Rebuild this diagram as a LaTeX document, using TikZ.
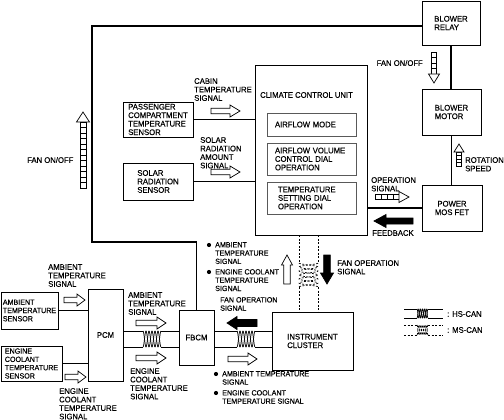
\documentclass[tikz,border=0pt]{standalone}
\usepackage{fontspec}
\setmainfont[FakeStretch=0.95,FakeBold=0.35]{Liberation Sans}
\usetikzlibrary{calc}
\newcommand\mainf{\fontsize{8.1}{8.5}\selectfont}
\newcommand\smallf{\fontsize{7.5}{8.3}\selectfont}
% horizontal twisted pair
\newcommand\twistH[5]{%
  \draw[#5] plot[domain=0:1,samples=80,smooth] ({#1+(#2-#1)*\x},{(#3+#4)/2+(#4-#3)/2*cos(\x*1080)});
  \draw[#5] plot[domain=0:1,samples=80,smooth] ({#1+(#2-#1)*\x},{(#3+#4)/2-(#4-#3)/2*cos(\x*1080)});}
% vertical twisted pair
\newcommand\twistV[5]{%
  \draw[#5] plot[domain=0:1,samples=80,smooth] ({(#3+#4)/2+(#4-#3)/2*cos(\x*1080)},{#1+(#2-#1)*\x});
  \draw[#5] plot[domain=0:1,samples=80,smooth] ({(#3+#4)/2-(#4-#3)/2*cos(\x*1080)},{#1+(#2-#1)*\x});}
% block arrow: x,y(tail),rot,len,shafthalf,headhalf,headlen,fill
\newcommand\blockarrow[8]{%
  \begin{scope}[shift={(#1,#2)},rotate=#3]
    \draw[line width=0.7pt,fill=#8] (0,-#5) -- ({#4-#7},-#5) -- ({#4-#7},-#6) -- (#4,0) -- ({#4-#7},#6) -- ({#4-#7},#5) -- (0,#5) -- cycle;
  \end{scope}}
% segmented arrow: x,y(tail),rot,n,seglen,halfw,headhalf,headlen
\newcommand\segarrow[8]{%
  \begin{scope}[shift={(#1,#2)},rotate=#3]
    \foreach \i in {1,...,#4} \draw[line width=0.6pt,fill=white] ({(\i-1)*#5},-#6) rectangle ({\i*#5},#6);
    \draw[line width=0.7pt,fill=white] ({#4*#5},-#7) -- ({#4*#5+#8},0) -- ({#4*#5},#7) -- cycle;
  \end{scope}}
\tikzset{
  box/.style={draw,line width=0.8pt,inner sep=0pt,align=left},
  ibox/.style={draw=black!65,line width=0.7pt,inner sep=0pt,align=left},
  lbl/.style={inner sep=0pt,align=left,anchor=north west},
  slbl/.style={inner sep=0pt,anchor=west},
  wire/.style={line width=1.3pt},
  heavy/.style={line width=1.9pt},
  can/.style={line width=0.7pt},
  mscan/.style={line width=0.7pt,dash pattern=on 2pt off 1.5pt},
}
\begin{document}
\begin{tikzpicture}[x=1pt,y=-1pt,font=\mainf]
\useasboundingbox (0,0) rectangle (504,420);
% boxes
\node[box,minimum width=58,minimum height=44] (relay) at (451,23) {BLOWER\\RELAY};
\node[box,minimum width=59,minimum height=46] (motor) at (451.5,112) {BLOWER\\MOTOR};
\node[box,minimum width=60,minimum height=46,align=center] (pmf) at (452,208) {POWER\\MOS FET};
\node[box,minimum width=112,minimum height=170] (ccu) at (311,150) {};
\node[slbl] (ccut) at (260,95) {CLIMATE CONTROL UNIT};
\node[ibox,text width=73pt,inner xsep=8pt,minimum height=23] (am) at (311.5,124.5) {AIRFLOW MODE};
\node[ibox,text width=73pt,inner xsep=8pt,minimum height=32] (av) at (311.5,159) {AIRFLOW VOLUME\\CONTROL DIAL\\OPERATION};
\node[ibox,text width=67pt,inner xsep=11pt,minimum height=32] (ts) at (311.5,198) {TEMPERATURE\\SETTING DIAL\\OPERATION};
\node[box,minimum width=70,minimum height=35] (pcts) at (158,119.5) {PASSENGER\\COMPARTMENT\\TEMPERATURE\\SENSOR};
\node[box,minimum width=70,minimum height=37] (srs) at (158,181.5) {SOLAR\\RADIATION\\SENSOR};
\node[box,minimum width=57,minimum height=37,font=\smallf] (amb) at (29.5,310.5) {AMBIENT\\TEMPERATURE\\SENSOR};
\node[box,minimum width=61,minimum height=35,font=\smallf] (ect) at (31.5,363.5) {ENGINE\\COOLANT\\TEMPERATURE\\SENSOR};
\node[box,minimum width=35,minimum height=92] (pcm) at (105.5,335) {PCM};
\node[box,minimum width=35,minimum height=55] (fbcm) at (196.5,337.5) {FBCM};
\node[box,minimum width=81,minimum height=58] (ic) at (312.5,341) {INSTRUMENT\\CLUSTER};
% wires
\coordinate (k1) at (92,26);
\coordinate (k2) at (92,242);
\draw[wire] ($(relay.west)+(0,3)$) -- (k1) -- (k2) -| (fbcm.north);
\draw[wire] (relay.south) -- (relay.south |- motor.north);
\draw[wire] (motor.south) -- (motor.south |- pmf.north);
\draw[wire] (pmf.west) -- (pmf.west -| ccu.east);
\draw[heavy] (pcts.east) -- (pcts.east -| ccu.west);
\draw[heavy] (srs.east) -- (srs.east -| ccu.west);
\draw[heavy] (amb.east) -- (amb.east -| pcm.west);
\draw[heavy] (ect.east) -- (ect.east -| pcm.west);
% HS-CAN PCM-FBCM
\coordinate (p1) at (143,331); \coordinate (p2) at (161,331);
\coordinate (p3) at (143,347); \coordinate (p4) at (161,347);
\draw[can] (pcm.east |- p1) -- (p1); \draw[can] (p2) -- (fbcm.west |- p2);
\draw[can] (pcm.east |- p3) -- (p3); \draw[can] (p4) -- (fbcm.west |- p4);
\twistH{143}{161}{331}{347}{can}
% HS-CAN FBCM-IC
\coordinate (q1) at (237,331); \coordinate (q2) at (255,331);
\coordinate (q3) at (237,347); \coordinate (q4) at (255,347);
\draw[can] (fbcm.east |- q1) -- (q1); \draw[can] (q2) -- (ic.west |- q2);
\draw[can] (fbcm.east |- q3) -- (q3); \draw[can] (q4) -- (ic.west |- q4);
\twistH{237}{255}{331}{347}{can}
% MS-CAN CCU-IC
\coordinate (r1) at (299,263); \coordinate (r2) at (299,287);
\coordinate (r3) at (318,263); \coordinate (r4) at (318,287);
\draw[mscan] (ccu.south -| r1) -- (r1); \draw[mscan] (r2) -- (ic.north -| r2);
\draw[mscan] (ccu.south -| r3) -- (r3); \draw[mscan] (r4) -- (ic.north -| r4);
\twistV{263}{287}{299}{318}{mscan}
% arrows
\blockarrow{211}{111}{0}{29}{2.8}{6}{10}{white}
\blockarrow{211}{172}{0}{29}{2.8}{6}{10}{white}
\blockarrow{64}{300}{0}{21}{2.8}{6}{8}{white}
\blockarrow{65}{377}{0}{21}{2.8}{6}{8}{white}
\blockarrow{136}{323}{0}{30}{2.8}{6}{9}{white}
\blockarrow{136}{358}{0}{30}{2.8}{6}{9}{white}
\blockarrow{257}{323}{180}{30}{3.5}{6.5}{10}{black}
\blockarrow{228}{359}{0}{29}{2.8}{6}{9}{white}
\blockarrow{287}{284}{90}{29}{3.3}{5.5}{10}{white}
\blockarrow{327}{255}{-90}{29}{3.3}{6.5}{11}{black}
\blockarrow{413}{221}{180}{39}{3}{6.5}{12}{black}
\segarrow{83}{188}{90}{12}{5.5}{3}{6.5}{10}
\segarrow{434}{52}{-90}{4}{5.5}{2.7}{5.5}{9}
\segarrow{459}{166}{90}{4}{3.5}{2.5}{5}{8}
\segarrow{375}{197}{0}{4}{6}{2.5}{5.5}{10}
% labels
\node[lbl] (l1) at (194,78) {CABIN\\TEMPERATURE\\SIGNAL};
\node[lbl] (l2) at (200,137) {SOLAR\\RADIATION\\AMOUNT\\SIGNAL};
\node[slbl] (l3) at (27,160) {FAN ON/OFF};
\node[inner sep=0pt,anchor=east] (l4) at (423,63) {FAN ON/OFF};
\node[lbl] (l5) at (465,157) {ROTATION\\SPEED};
\node[lbl] (l6) at (371,177) {OPERATION\\SIGNAL};
\node[slbl] (l7) at (372,233) {FEEDBACK};
\node[lbl,font=\smallf] (l8) at (215,242) {AMBIENT\\TEMPERATURE\\SIGNAL};
\node[lbl,font=\smallf] (l9) at (215,269) {ENGINE COOLANT\\TEMPERATURE\\SIGNAL};
\fill (209,245) circle (2.1pt);
\fill (209,272) circle (2.1pt);
\node[lbl] (l10) at (337,260) {FAN OPERATION\\SIGNAL};
\node[lbl,font=\smallf] (l11) at (220,297) {FAN OPERATION\\SIGNAL};
\node[lbl] (l12) at (48,264) {AMBIENT\\TEMPERATURE\\SIGNAL};
\node[lbl] (l13) at (59,388) {ENGINE\\COOLANT\\TEMPERATURE\\SIGNAL};
\node[lbl] (l14) at (128,292) {AMBIENT\\TEMPERATURE\\SIGNAL};
\node[lbl] (l15) at (130,368) {ENGINE\\COOLANT\\TEMPERATURE\\SIGNAL};
\node[lbl,font=\smallf] (l16) at (222,371) {AMBIENT TEMPERATURE\\SIGNAL};
\node[lbl,font=\smallf] (l17) at (222,390) {ENGINE COOLANT\\TEMPERATURE SIGNAL};
\fill (216,374) circle (2.1pt);
\fill (216,393) circle (2.1pt);
% legend
\draw[can] (404,309) -- (417,309) (428,309) -- (443,309);
\draw[can] (404,318) -- (417,318) (428,318) -- (443,318);
\twistH{417}{428}{309}{318}{can}
\draw[mscan] (404,325) -- (417,325) (428,325) -- (443,325);
\draw[mscan] (404,335) -- (417,335) (428,335) -- (443,335);
\twistH{417}{428}{325}{335}{mscan}
\node[slbl] (lg1) at (447,314) {: HS-CAN};
\node[slbl] (lg2) at (447,330) {: MS-CAN};
\end{tikzpicture}
\end{document}
